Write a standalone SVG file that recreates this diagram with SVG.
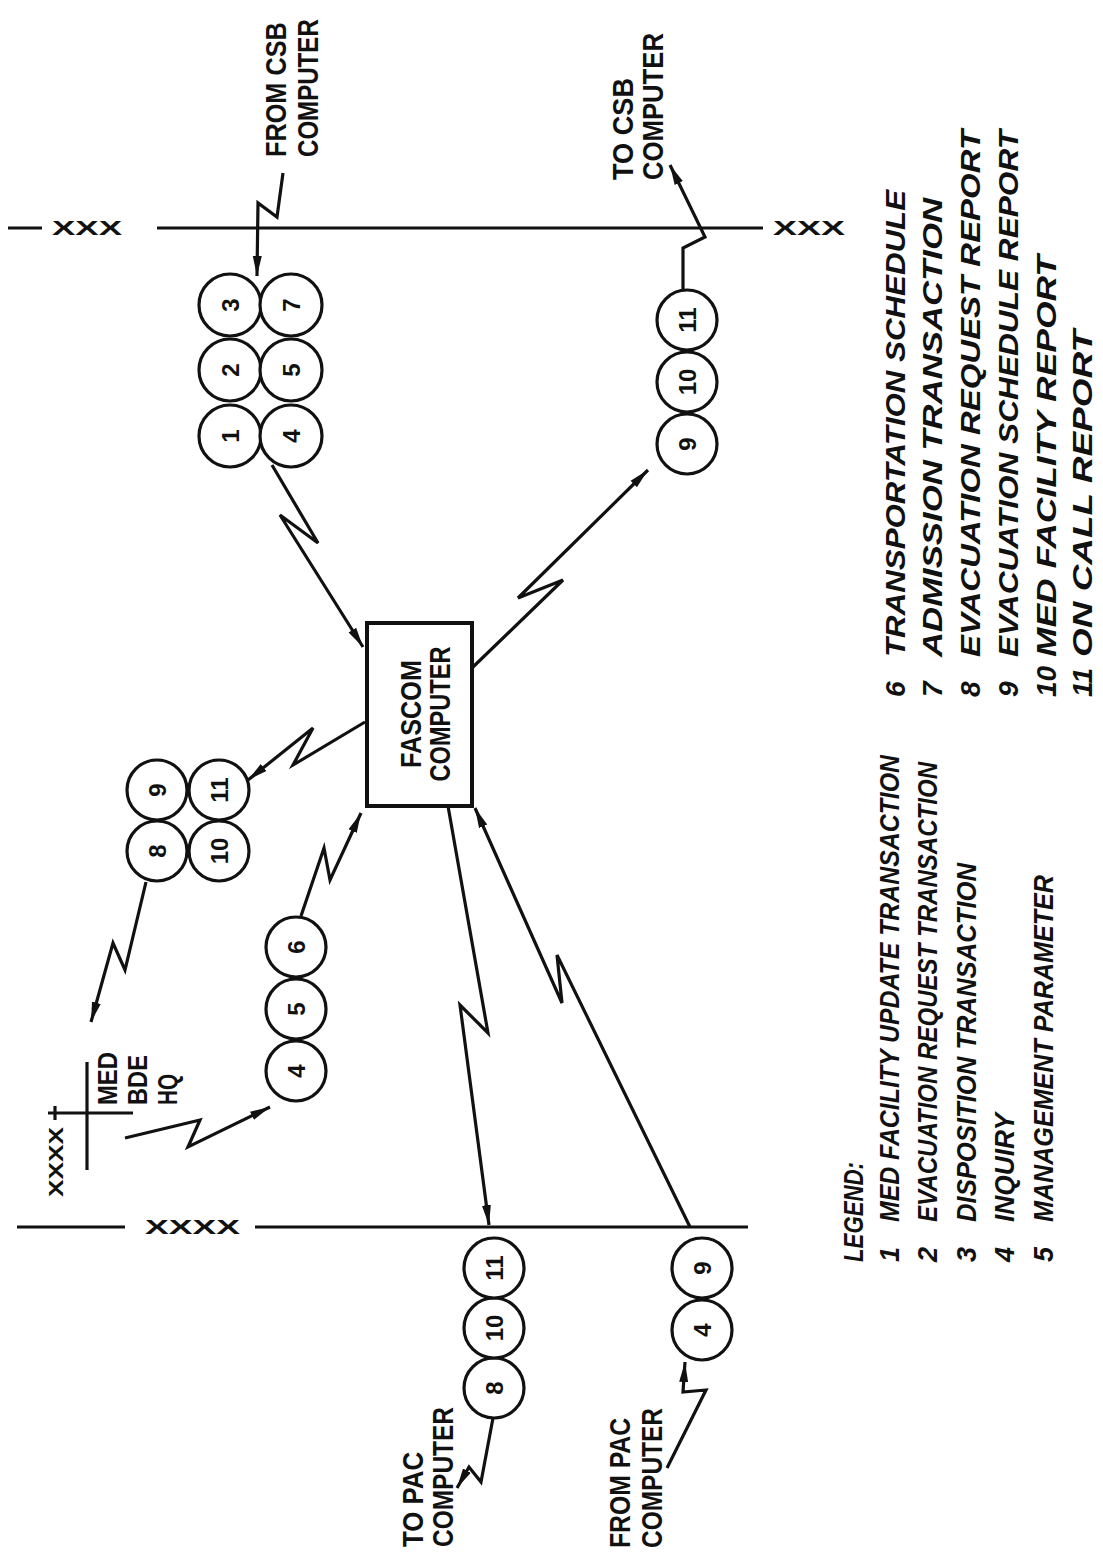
<svg xmlns="http://www.w3.org/2000/svg" width="1103" height="1568" viewBox="0 0 1103 1568">
<style>
.ln{fill:none;stroke:#111;stroke-width:3.2;stroke-linejoin:miter;stroke-linecap:butt}
.c{fill:#fff;stroke:#111;stroke-width:3.2}
.box{fill:#fff;stroke:#111;stroke-width:4}
.lb{font-family:"Liberation Sans",Arial,sans-serif;font-weight:bold;font-size:29px;fill:#111}
.sm{font-family:"Liberation Sans",Arial,sans-serif;font-weight:bold;font-size:27px;fill:#111}
.n{font-family:"Liberation Sans",Arial,sans-serif;font-weight:bold;font-size:24px;fill:#111;text-anchor:middle}
.x{font-family:"Liberation Sans",Arial,sans-serif;font-weight:bold;font-size:20px;fill:#111}
.lg{font-family:"Liberation Sans",Arial,sans-serif;font-weight:bold;font-style:italic;font-size:27px;fill:#111}
.lg2{font-family:"Liberation Sans",Arial,sans-serif;font-weight:bold;font-style:italic;font-size:28px;fill:#111}
</style>
<defs>
<marker id="ah" markerUnits="userSpaceOnUse" markerWidth="24" markerHeight="12" refX="20" refY="5" orient="auto" viewBox="0 0 24 12">
<path d="M0,0.5 L20,5 L0,9.5 Z" fill="#111"/>
</marker>
</defs>
<rect width="1103" height="1568" fill="#fff"/>

<g id="boundaries">
<line class="ln" x1="8" y1="228" x2="42" y2="228"/>
<text class="x" x="52" y="235" textLength="70" lengthAdjust="spacingAndGlyphs">XXX</text>
<line class="ln" x1="157" y1="228" x2="763" y2="228"/>
<text class="x" x="773" y="235" textLength="72" lengthAdjust="spacingAndGlyphs">XXX</text>
<line class="ln" x1="17" y1="1227" x2="125" y2="1227"/>
<text class="x" x="145" y="1234" textLength="95" lengthAdjust="spacingAndGlyphs">XXXX</text>
<line class="ln" x1="255" y1="1227" x2="748" y2="1227"/>
</g>

<g id="medbde">
<line class="ln" x1="87" y1="1062" x2="87" y2="1170"/>
<line class="ln" x1="48" y1="1113" x2="133" y2="1113"/>
<line class="ln" x1="55" y1="1106" x2="55" y2="1120"/>
<text class="x" transform="translate(63,1197) rotate(-90)" textLength="70" lengthAdjust="spacingAndGlyphs">XXXX</text>
<text class="sm" transform="translate(117,1105) rotate(-90)" textLength="53" lengthAdjust="spacingAndGlyphs">MED</text>
<text class="sm" transform="translate(147,1105) rotate(-90)" textLength="50" lengthAdjust="spacingAndGlyphs">BDE</text>
<text class="sm" transform="translate(177,1105) rotate(-90)" textLength="31" lengthAdjust="spacingAndGlyphs">HQ</text>
</g>

<g id="fascom">
<rect class="box" x="367" y="623" width="105" height="183"/>
<text class="lb" transform="translate(421,714) rotate(-90)" text-anchor="middle" textLength="108" lengthAdjust="spacingAndGlyphs">FASCOM</text>
<text class="lb" transform="translate(450,714) rotate(-90)" text-anchor="middle" textLength="135" lengthAdjust="spacingAndGlyphs">COMPUTER</text>
</g>

<g id="labels">
<text class="lb" transform="translate(286,157) rotate(-90) scale(0.87,1)" textLength="155" lengthAdjust="spacingAndGlyphs">FROM CSB</text>
<text class="lb" transform="translate(318,157) rotate(-90) scale(0.83,1)" textLength="166" lengthAdjust="spacingAndGlyphs">COMPUTER</text>
<text class="lb" transform="translate(633,180) rotate(-90)" textLength="102" lengthAdjust="spacingAndGlyphs">TO CSB</text>
<text class="lb" transform="translate(663,180) rotate(-90)" textLength="147" lengthAdjust="spacingAndGlyphs">COMPUTER</text>
<text class="lb" transform="translate(423,1547) rotate(-90)" textLength="95" lengthAdjust="spacingAndGlyphs">TO PAC</text>
<text class="lb" transform="translate(453,1547) rotate(-90)" textLength="140" lengthAdjust="spacingAndGlyphs">COMPUTER</text>
<text class="lb" transform="translate(630,1548) rotate(-90)" textLength="130" lengthAdjust="spacingAndGlyphs">FROM PAC</text>
<text class="lb" transform="translate(662,1548) rotate(-90)" textLength="140" lengthAdjust="spacingAndGlyphs">COMPUTER</text>
</g>

<g id="grp-csb-in">
<circle class="c" cx="230" cy="436" r="31"/><text class="n" transform="translate(230,436) rotate(-90)" y="8.5">1</text>
<circle class="c" cx="230" cy="370" r="31"/><text class="n" transform="translate(230,370) rotate(-90)" y="8.5">2</text>
<circle class="c" cx="230" cy="305" r="31"/><text class="n" transform="translate(230,305) rotate(-90)" y="8.5">3</text>
<circle class="c" cx="291" cy="436" r="31"/><text class="n" transform="translate(291,436) rotate(-90)" y="8.5">4</text>
<circle class="c" cx="291" cy="370" r="31"/><text class="n" transform="translate(291,370) rotate(-90)" y="8.5">5</text>
<circle class="c" cx="291" cy="305" r="31"/><text class="n" transform="translate(291,305) rotate(-90)" y="8.5">7</text>
</g>

<g id="grp-csb-out">
<circle class="c" cx="687" cy="444" r="30"/><text class="n" transform="translate(687,444) rotate(-90)" y="8.5">9</text>
<circle class="c" cx="687" cy="382" r="30"/><text class="n" transform="translate(687,382) rotate(-90)" y="8.5">10</text>
<circle class="c" cx="687" cy="320" r="30"/><text class="n" transform="translate(687,320) rotate(-90)" y="8.5">11</text>
</g>

<g id="grp-medbde-out">
<circle class="c" cx="157" cy="851" r="30"/><text class="n" transform="translate(157,851) rotate(-90)" y="8.5">8</text>
<circle class="c" cx="157" cy="790" r="30"/><text class="n" transform="translate(157,790) rotate(-90)" y="8.5">9</text>
<circle class="c" cx="219" cy="851" r="30"/><text class="n" transform="translate(219,851) rotate(-90)" y="8.5">10</text>
<circle class="c" cx="219" cy="790" r="30"/><text class="n" transform="translate(219,790) rotate(-90)" y="8.5">11</text>
</g>

<g id="grp-medbde-in">
<circle class="c" cx="296" cy="1071" r="30"/><text class="n" transform="translate(296,1071) rotate(-90)" y="8.5">4</text>
<circle class="c" cx="296" cy="1009" r="30"/><text class="n" transform="translate(296,1009) rotate(-90)" y="8.5">5</text>
<circle class="c" cx="296" cy="947" r="30"/><text class="n" transform="translate(296,947) rotate(-90)" y="8.5">6</text>
</g>

<g id="grp-pac-out">
<circle class="c" cx="494" cy="1388" r="30"/><text class="n" transform="translate(494,1388) rotate(-90)" y="8.5">8</text>
<circle class="c" cx="494" cy="1328" r="30"/><text class="n" transform="translate(494,1328) rotate(-90)" y="8.5">10</text>
<circle class="c" cx="494" cy="1268" r="30"/><text class="n" transform="translate(494,1268) rotate(-90)" y="8.5">11</text>
</g>

<g id="grp-pac-in">
<circle class="c" cx="702" cy="1330" r="30"/><text class="n" transform="translate(702,1330) rotate(-90)" y="8.5">4</text>
<circle class="c" cx="702" cy="1268" r="30"/><text class="n" transform="translate(702,1268) rotate(-90)" y="8.5">9</text>
</g>

<g id="connectors">
<polyline class="ln" marker-end="url(#ah)" points="283,173 277,217 258,203 257,276"/>
<polyline class="ln" marker-end="url(#ah)" points="272,465 318,543 280,515 363,647"/>
<polyline class="ln" marker-end="url(#ah)" points="365,722 293,765 313,728 248,780"/>
<polyline class="ln" marker-end="url(#ah)" points="146,882 125,970 113,943 91,1022"/>
<polyline class="ln" marker-end="url(#ah)" points="125,1138 200,1120 188,1147 270,1107"/>
<polyline class="ln" marker-end="url(#ah)" points="301,916 324,848 330,880 361,813"/>
<polyline class="ln" marker-end="url(#ah)" points="473,667 563,580 518,598 648,470"/>
<polyline class="ln" marker-end="url(#ah)" points="683,290 683,248 705,237 670,165"/>
<polyline class="ln" marker-end="url(#ah)" points="448,806 488,1033 460,1005 489,1225"/>
<polyline class="ln" marker-end="url(#ah)" points="690,1227 557,955 562,1003 475,808"/>
<polyline class="ln" marker-end="url(#ah)" points="493,1418 481,1482 469,1467 457,1488"/>
<polyline class="ln" marker-end="url(#ah)" points="667,1468 706,1390 683,1392 685,1362"/>
</g>

<g id="legend">
<text class="lg" transform="translate(863,1262) rotate(-90)" textLength="100" lengthAdjust="spacingAndGlyphs">LEGEND:</text>
<text class="lg" transform="translate(899,1262) rotate(-90)">1</text>
<text class="lg" transform="translate(899,1222) rotate(-90)" textLength="467" lengthAdjust="spacingAndGlyphs">MED FACILITY UPDATE TRANSACTION</text>
<text class="lg" transform="translate(937,1262) rotate(-90)">2</text>
<text class="lg" transform="translate(937,1222) rotate(-90)" textLength="460" lengthAdjust="spacingAndGlyphs">EVACUATION REQUEST TRANSACTION</text>
<text class="lg" transform="translate(976,1262) rotate(-90)">3</text>
<text class="lg" transform="translate(976,1222) rotate(-90)" textLength="359" lengthAdjust="spacingAndGlyphs">DISPOSITION TRANSACTION</text>
<text class="lg" transform="translate(1014,1262) rotate(-90)">4</text>
<text class="lg" transform="translate(1014,1222) rotate(-90)" textLength="109" lengthAdjust="spacingAndGlyphs">INQUIRY</text>
<text class="lg" transform="translate(1053,1262) rotate(-90)">5</text>
<text class="lg" transform="translate(1053,1222) rotate(-90)" textLength="347" lengthAdjust="spacingAndGlyphs">MANAGEMENT PARAMETER</text>
<text class="lg2" transform="translate(905,697) rotate(-90)">6</text>
<text class="lg2" transform="translate(905,657) rotate(-90)" textLength="467" lengthAdjust="spacingAndGlyphs">TRANSPORTATION SCHEDULE</text>
<text class="lg2" transform="translate(942,697) rotate(-90)">7</text>
<text class="lg2" transform="translate(942,657) rotate(-90)" textLength="459" lengthAdjust="spacingAndGlyphs">ADMISSION TRANSACTION</text>
<text class="lg2" transform="translate(980,697) rotate(-90)">8</text>
<text class="lg2" transform="translate(980,657) rotate(-90)" textLength="527" lengthAdjust="spacingAndGlyphs">EVACUATION REQUEST REPORT</text>
<text class="lg2" transform="translate(1018,697) rotate(-90)">9</text>
<text class="lg2" transform="translate(1018,657) rotate(-90)" textLength="527" lengthAdjust="spacingAndGlyphs">EVACUATION SCHEDULE REPORT</text>
<text class="lg2" transform="translate(1056,697) rotate(-90)">10</text>
<text class="lg2" transform="translate(1056,657) rotate(-90)" textLength="402" lengthAdjust="spacingAndGlyphs">MED FACILITY REPORT</text>
<text class="lg2" transform="translate(1092,697) rotate(-90)">11</text>
<text class="lg2" transform="translate(1092,657) rotate(-90)" textLength="327" lengthAdjust="spacingAndGlyphs">ON CALL REPORT</text>
</g>
</svg>
